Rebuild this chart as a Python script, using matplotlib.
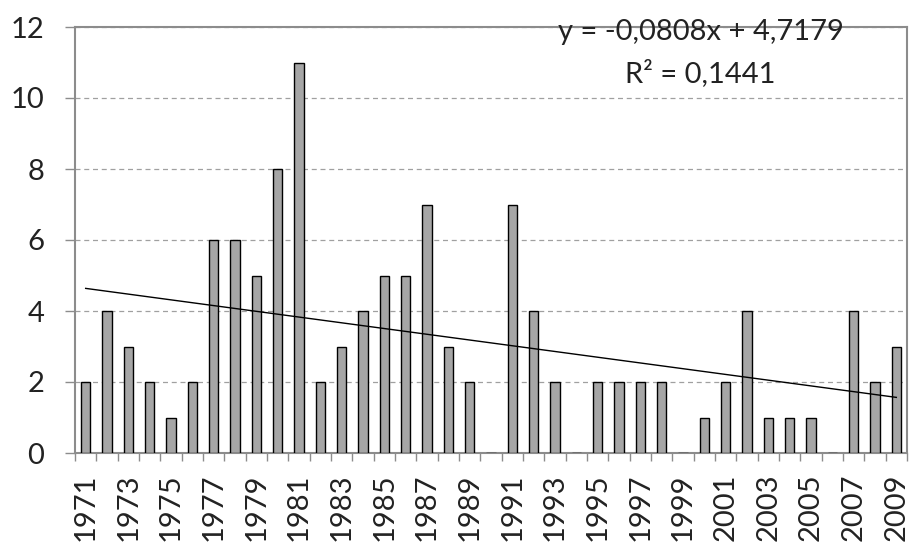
import numpy as np
import matplotlib.pyplot as plt

# Yearly counts
years = list(range(1971, 2010))
counts = [2, 4, 3, 2, 1, 2, 6, 6, 5, 8, 11, 2, 3, 4, 5, 5, 7, 3, 2, 0,
          7, 4, 2, 0, 2, 2, 2, 2, 0, 1, 2, 4, 1, 1, 1, 0, 4, 2, 3]
# Linear trend as printed on the chart (x = 1..n)
slope = -0.0808
intercept = 4.7179
r2 = 0.1441
y_ticks = [0, 2, 4, 6, 8, 10, 12]

plt.rcParams['font.family'] = ['Lato', 'DejaVu Sans']

fig = plt.figure(figsize=(9.11, 5.45), dpi=100)
ax = fig.add_axes([75 / 911, 1 - 453 / 545, 832 / 911, 426 / 545])

idx = np.arange(len(years))
ax.bar(idx, counts, width=0.45, color='#a6a6a6', edgecolor='black', linewidth=1.0, zorder=3)

xt = np.arange(1, len(years) + 1)
ax.plot(idx, slope * xt + intercept, color='black', linewidth=1.0, zorder=4)

ax.set_xlim(-0.5, len(years) - 0.5)
ax.set_ylim(0, 12)
ax.set_yticks(y_ticks)
ax.tick_params(axis='y', labelsize=21, length=7, width=1, color='#8c8c8c', pad=15, labelcolor='#222222')

ax.set_xticks(idx[::2])
ax.set_xticklabels([str(y) for y in years[::2]], rotation=90)
ax.set_xticks(np.arange(-0.5, len(years)), minor=True)
ax.tick_params(axis='x', which='major', length=0, labelsize=21, pad=15, labelcolor='#222222')
ax.tick_params(axis='x', which='minor', length=6, width=1, color='#8c8c8c')

ax.yaxis.grid(True, linestyle=(0, (4, 3)), color='#a0a0a0', linewidth=0.9, zorder=0)
for s in ax.spines.values():
    s.set_color('#8c8c8c')
    s.set_linewidth(1.5)

ax.text(0.752, 0.988, f"y = {slope:.4f}x + {intercept:.4f}".replace('.', ','),
        transform=ax.transAxes, ha='center', va='center', fontsize=21, color='#222222', zorder=5)
ax.text(0.752, 0.892, f"R² = {r2:.4f}".replace('.', ','),
        transform=ax.transAxes, ha='center', va='center', fontsize=21, color='#222222', zorder=5)

fig.savefig('out.png', dpi=100)
